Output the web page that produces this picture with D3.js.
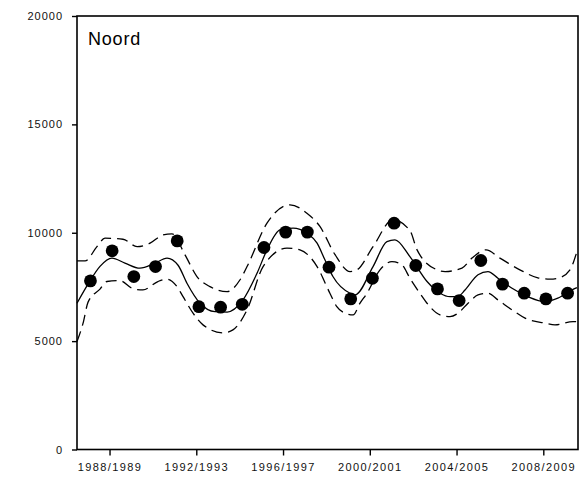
<!DOCTYPE html>
<html>
<head>
<meta charset="utf-8">
<script src="https://cdn.jsdelivr.net/npm/d3@7"></script>
<style>
  body { margin: 0; background: #fff; }
  svg { display: block; }
</style>
</head>
<body>
<div id="chart"></div>
<script>
// counts per season (season start year)
const seasons = [1987, 1988, 1989, 1990, 1991, 1992, 1993, 1994, 1995, 1996, 1997, 1998,
  1999, 2000, 2001, 2002, 2003, 2004, 2005, 2006, 2007, 2008, 2009];
const counts = [7780, 9165, 7980, 8440, 9625, 6590, 6565, 6700, 9320, 10030, 10030, 8410,
  6950, 7900, 10440, 8490, 7410, 6870, 8720, 7630, 7210, 6950, 7210];

// smoothed trend (t = season position, v = value)
const trendT = [1986.5, 1987.05, 1987.56, 1988.11, 1988.71, 1989.4, 1990.1, 1990.65, 1991.16, 1991.57,
  1992.17, 1992.86, 1993.42, 1994.15, 1994.8, 1995.26, 1995.86, 1996.46, 1997.1, 1997.57, 1997.93,
  1998.3, 1999.09, 1999.32, 2000.15, 2000.79, 2001.16, 2001.85, 2002.64, 2003.24, 2003.7, 2004.11,
  2004.39, 2004.99, 2005.45, 2005.91, 2006.56, 2007.29, 2008.07, 2008.67, 2009.32, 2009.55];
const trendV = [6750, 7700, 8450, 8830, 8600, 8365, 8600, 8830, 8500, 7670,
  6750, 6360, 6340, 6900, 8130, 9210, 10130, 10210, 9980, 9520, 8750,
  7980, 7210, 7130, 8440, 9590, 9670, 8900, 7750, 7210, 7050, 7090,
  7360, 8060, 8210, 7900, 7440, 7050, 6820, 6980, 7360, 7470];

// upper confidence limit
const upperT = [1986.5, 1986.87, 1987.42, 1987.79, 1988.62, 1989.27, 1989.87, 1990.46, 1990.88, 1991.48,
  1992.03, 1992.63, 1993.42, 1994.01, 1994.34, 1995.26, 1996.32, 1997.1, 1997.7, 1998.39, 1999.09,
  1999.41, 2000.15, 2001.07, 2001.85, 2002.18, 2003.1, 2003.47, 2004.25, 2004.71, 2005.36, 2006.0,
  2006.92, 2007.75, 2008.31, 2008.67, 2009.23, 2009.55];
const upperV = [8700, 8700, 9360, 9750, 9700, 9360, 9520, 9900, 9950, 8980,
  7980, 7515, 7285, 7820, 8440, 10440, 11290, 10900, 10290, 9000, 8210,
  8290, 9360, 10600, 10100, 9210, 8290, 8210, 8370, 8830, 9210, 8830,
  8290, 7920, 7860, 7900, 8290, 9130];

// lower confidence limit
const lowerT = [1986.5, 1986.78, 1987.01, 1987.56, 1987.88, 1988.48, 1989.08, 1989.54, 1990.23, 1990.65,
  1991.11, 1991.39, 1991.85, 1992.31, 1993.23, 1993.69, 1994.34, 1995.08, 1996.18, 1996.78, 1997.57,
  1998.16, 1998.48, 1998.86, 1999.23, 1999.55, 1999.87, 2000.47, 2001.02, 2001.48, 2001.85, 2002.31,
  2002.77, 2003.24, 2003.7, 2004.07, 2004.53, 2004.99, 2005.45, 2005.91, 2006.56, 2007.16, 2008.07,
  2008.54, 2009.37, 2009.55];
const lowerV = [4980, 5830, 6800, 7400, 7750, 7790, 7420, 7360, 7750, 7860,
  7515, 7050, 6290, 5750, 5380, 5520, 6440, 8440, 9290, 9210, 8440,
  7210, 6590, 6290, 6210, 6750, 7210, 8290, 8670, 8520, 7900, 7210,
  6590, 6210, 6130, 6290, 6750, 7130, 7210, 6900, 6440, 6060, 5830,
  5750, 5900, 5900];

const tickYears = [1988, 1992, 1996, 2000, 2004, 2008];
const tickLabels = ["1988/1989", "1992/1993", "1996/1997", "2000/2001", "2004/2005", "2008/2009"];
const yTicks = [0, 5000, 10000, 15000, 20000];
const panelTitle = "Noord";

const width = 586, height = 485;
const plotLeft = 77, plotRight = 578, plotTop = 16, plotBottom = 449.5;

const x = d3.scaleLinear().domain([1986.5, 2009.6]).range([plotLeft, plotRight]);
const y = d3.scaleLinear().domain([0, 20000]).range([plotBottom, plotTop]);

const svg = d3.select("#chart").append("svg")
  .attr("width", width)
  .attr("height", height)
  .attr("font-family", "'Liberation Sans', Arial, sans-serif");

// frame
svg.append("rect")
  .attr("x", plotLeft).attr("y", plotTop)
  .attr("width", plotRight - plotLeft).attr("height", plotBottom - plotTop)
  .attr("fill", "none")
  .attr("stroke", "#000")
  .attr("stroke-width", 1.6);

// y axis
const yAxis = svg.append("g")
  .attr("transform", `translate(${plotLeft},0)`)
  .call(d3.axisLeft(y).tickValues(yTicks).tickSize(5).tickPadding(9).tickFormat(d => d));
yAxis.select(".domain").remove();
yAxis.selectAll("line").attr("stroke-width", 1.4);
yAxis.selectAll("text")
  .attr("font-size", 11)
  .attr("letter-spacing", 1)
  .attr("fill", "#111");

// x axis
const xAxis = svg.append("g")
  .attr("transform", `translate(0,${plotBottom})`)
  .call(d3.axisBottom(x).tickValues(tickYears).tickSize(6).tickPadding(8)
    .tickFormat((d, i) => tickLabels[i]));
xAxis.select(".domain").remove();
xAxis.selectAll("line").attr("stroke-width", 1.4);
xAxis.selectAll("text")
  .attr("font-size", 11)
  .attr("letter-spacing", 1.4)
  .attr("fill", "#111");

svg.append("text")
  .attr("x", 88).attr("y", 45)
  .attr("font-size", 18)
  .attr("letter-spacing", 0.8)
  .text(panelTitle);

const line = d3.line()
  .x(d => x(d[0]))
  .y(d => y(d[1]))
  .curve(d3.curveMonotoneX);

const plot = svg.append("g");

// confidence band (dashed)
[[upperT, upperV], [lowerT, lowerV]].forEach(([ts, vs]) => {
  plot.append("path")
    .attr("d", line(d3.zip(ts, vs)))
    .attr("fill", "none")
    .attr("stroke", "#000")
    .attr("stroke-width", 1.3)
    .attr("stroke-dasharray", "11,6");
});

// trend (solid)
plot.append("path")
  .attr("d", line(d3.zip(trendT, trendV)))
  .attr("fill", "none")
  .attr("stroke", "#000")
  .attr("stroke-width", 1.3);

// counts
plot.selectAll("circle")
  .data(d3.zip(seasons, counts))
  .join("circle")
  .attr("cx", d => x(d[0] + 0.12))
  .attr("cy", d => y(d[1]))
  .attr("r", 6.4)
  .attr("fill", "#000");
</script>
</body>
</html>
